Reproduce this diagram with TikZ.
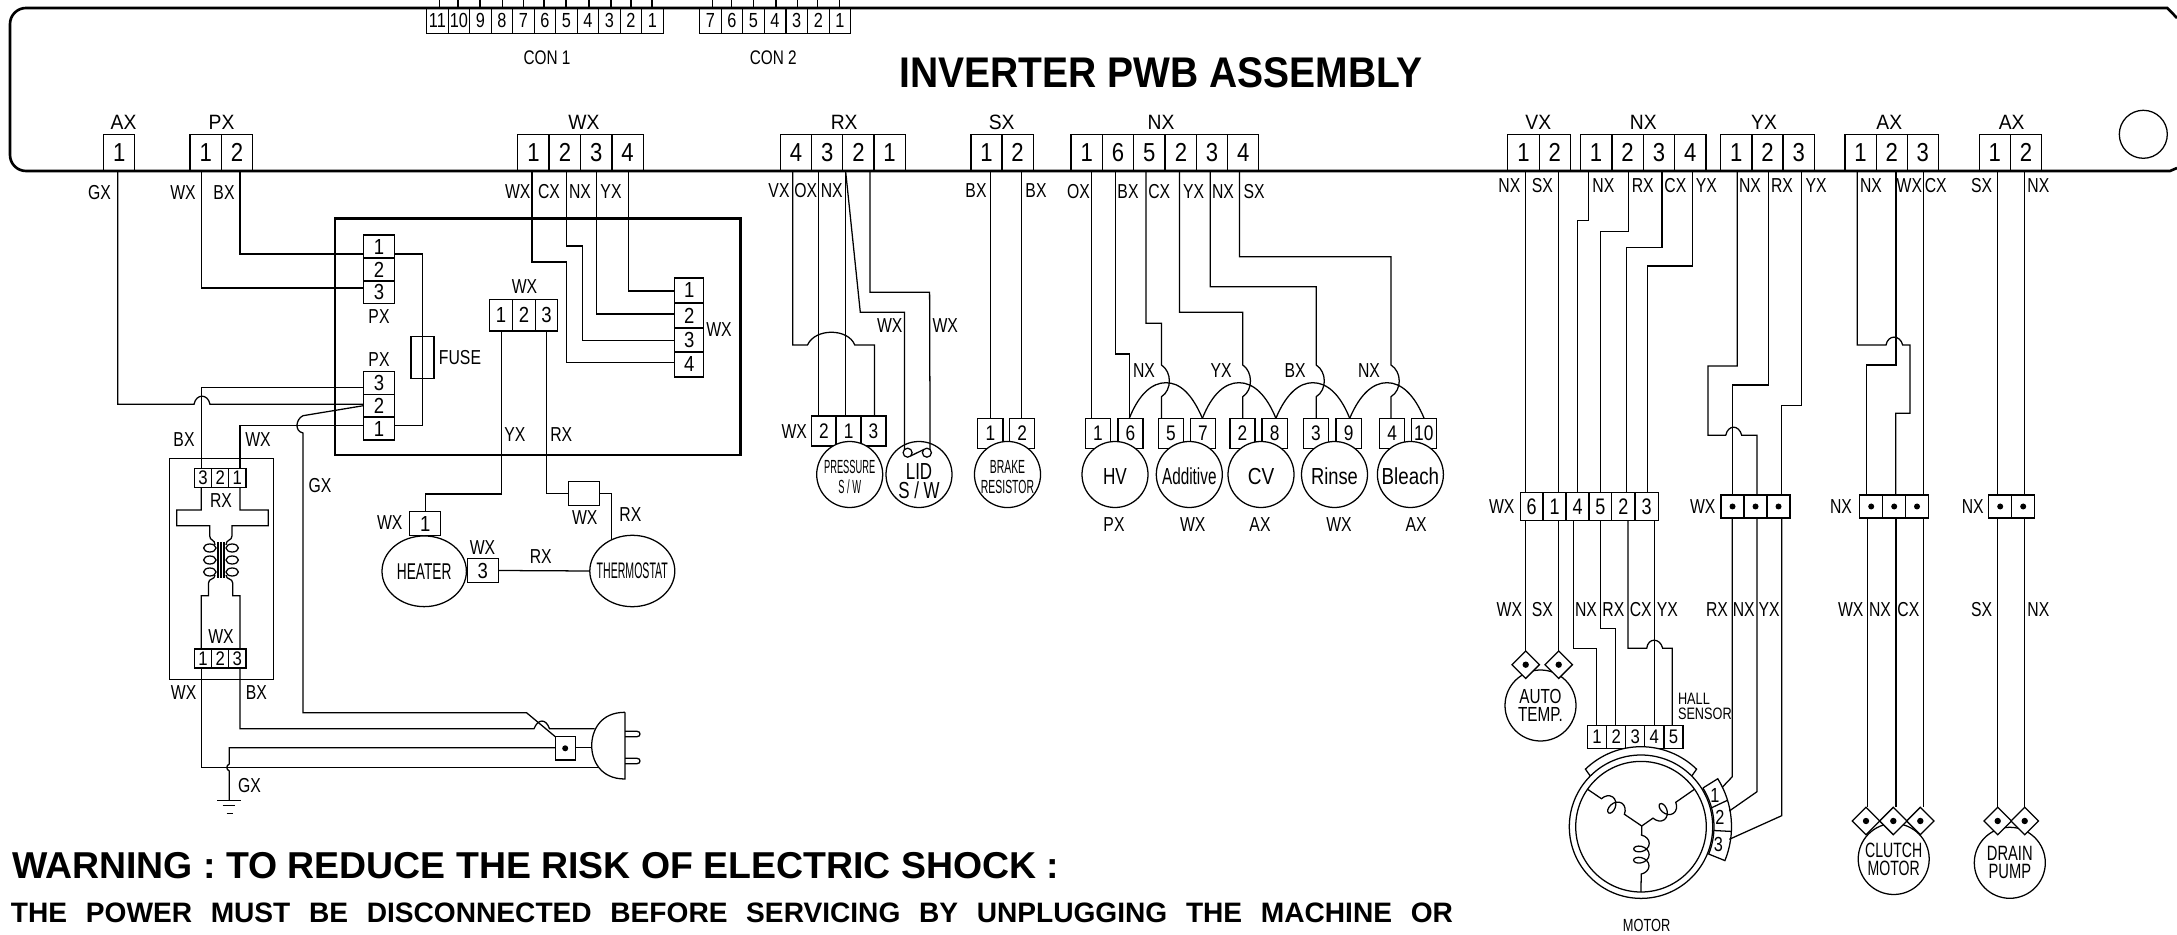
\documentclass[tikz,border=0pt]{standalone}
\usepackage{fontspec}
\setmainfont{Liberation Sans}
\usetikzlibrary{shapes.geometric,decorations.pathmorphing}
\newcommand{\devfont}[3][5.4]{\fontsize{#2}{#1}\selectfont\addfontfeature{FakeStretch=#3}}
\tikzset{
  bcell/.style={draw,minimum width=3.13mm,minimum height=3.67mm,font=\devfont{7.4}{.85}},
  ccell/.style={draw,minimum width=2.15mm,minimum height=2.53mm,font=\devfont{5.8}{.8}},
  vcell/.style={draw,minimum width=3.11mm,minimum height=2.3mm,font=\devfont{6.2}{.85}},
  rcell/.style={draw,minimum width=2.9mm,minimum height=2.5mm,font=\devfont{6.2}{.85}},
  mcell/.style={draw,minimum width=2.26mm,minimum height=3.17mm,font=\devfont{6.2}{.85}},
  tcell/.style={draw,minimum width=1.72mm,minimum height=1.9mm,font=\devfont{5.6}{.85}},
  hcell/.style={draw,minimum width=3.1mm,minimum height=2.36mm,font=\devfont{6.2}{.85}},
  scell/.style={draw,minimum width=2.52mm,minimum height=3mm,font=\devfont{6}{.82}},
  dcell/.style={draw,minimum width=2.3mm,minimum height=2.8mm,font=\devfont{6.4}{.8}},
  mtcell/.style={draw,minimum width=1.92mm,minimum height=2.26mm,font=\devfont{5.6}{.85}},
  dotcell/.style={draw,minimum width=2.3mm,minimum height=2.3mm,path picture={\fill[black] (path picture bounding box.center) circle (.3mm);}},
  pindia/.style={diamond,draw,fill=white,minimum width=2.74mm,minimum height=2.74mm,path picture={\fill[black] (path picture bounding box.center) circle (.32mm);}},
  dev/.style={circle,draw,fill=white,minimum size=6.6mm,align=center},
  bigdev/.style={circle,draw,fill=white,minimum size=7.1mm,align=center},
  unit/.style={dev,text height=2.1mm},
  oval/.style={ellipse,draw,fill=white,minimum width=8.44mm,minimum height=7.07mm},
  tag/.style={font=\devfont{5.75}{.78}},
  head/.style={font=\devfont{5.9}{.93}},
  wire/.style={draw},
  coilwire/.style={decorate,decoration={coil,aspect=.7,amplitude=2.2pt,segment length=3.2pt,#1}}
}
\begin{document}
\begin{tikzpicture}[x=.1mm,y=-.1mm,line width=.36pt,every node/.style={inner sep=0pt,outer sep=0pt}]
  \useasboundingbox (0,0) rectangle (2177,935);
  % board outline
  \draw[line width=.75pt] (2177,18) -- (2167.3,8) [rounded corners=1.6mm] -- (10,8) -- (10,171) [sharp corners] -- (2170,171) -- (2177,168);
  \draw (2143.3,134.3) circle (2.4mm);
  \node[font=\bfseries\fontsize{12.2}{13}\selectfont\addfontfeature{FakeStretch=.91}] (title) at (1161,73) {INVERTER PWB ASSEMBLY};
  \node[font=\devfont{5.6}{.78}] (conlabela) at (547,57.7) {CON 1};
  \node[font=\devfont{5.6}{.78}] (conlabelb) at (773.3,57.7) {CON 2};

  % CON 1
  \node[ccell] (cona11) at (437.4,20.7) {11};
  \node[ccell] (cona10) at (458.9,20.7) {10};
  \node[ccell] (cona9) at (480.4,20.7) {9};
  \node[ccell] (cona8) at (501.9,20.7) {8};
  \node[ccell] (cona7) at (523.4,20.7) {7};
  \node[ccell] (cona6) at (544.9,20.7) {6};
  \node[ccell] (cona5) at (566.4,20.7) {5};
  \node[ccell] (cona4) at (587.9,20.7) {4};
  \node[ccell] (cona3) at (609.4,20.7) {3};
  \node[ccell] (cona2) at (630.9,20.7) {2};
  \node[ccell] (cona1) at (652.4,20.7) {1};
  % CON 2
  \node[ccell] (conb7) at (710.5,20.7) {7};
  \node[ccell] (conb6) at (732,20.7) {6};
  \node[ccell] (conb5) at (753.5,20.7) {5};
  \node[ccell] (conb4) at (775,20.7) {4};
  \node[ccell] (conb3) at (796.7,20.7) {3};
  \node[ccell] (conb2) at (818.4,20.7) {2};
  \node[ccell] (conb1) at (839.9,20.7) {1};
  \draw (cona11.north -| 439.6,0) -- (439.6,0);
  \draw (cona10.north -| 458,0) -- (458,0);
  \draw (cona9.north -| 480,0) -- (480,0);
  \draw (cona8.north -| 502.7,0) -- (502.7,0);
  \draw (cona7.north -| 523.5,0) -- (523.5,0);
  \draw (cona6.north -| 544,0) -- (544,0);
  \draw (cona5.north -| 566,0) -- (566,0);
  \draw (cona4.north -| 589,0) -- (589,0);
  \draw (cona3.north -| 611,0) -- (611,0);
  \draw (cona2.north -| 631,0) -- (631,0);
  \draw (cona1.north -| 652,0) -- (652,0);
  \draw (conb7.north -| 712.3,0) -- (712.3,0);
  \draw (conb6.north -| 731.7,0) -- (731.7,0);
  \draw (conb5.north -| 753.3,0) -- (753.3,0);
  \draw (conb4.north -| 776,0) -- (776,0);
  \draw (conb3.north -| 797.7,0) -- (797.7,0);
  \draw (conb2.north -| 817.7,0) -- (817.7,0);
  \draw (conb1.north -| 839.3,0) -- (839.3,0);

  % connectors on the bottom edge of the board
  \node[head] (headax) at (123.6,122) {AX};
  \node[bcell] (ax1) at (119.2,152.65) {1};
  \node[head] (headpx) at (221.5,122) {PX};
  \node[bcell] (pxa1) at (205.7,152.65) {1};
  \node[bcell] (pxa2) at (237,152.65) {2};
  \node[head] (headwx) at (584,122) {WX};
  \node[bcell] (wxa1) at (533.4,152.65) {1};
  \node[bcell] (wxa2) at (564.9,152.65) {2};
  \node[bcell] (wxa3) at (596.3,152.65) {3};
  \node[bcell] (wxa4) at (627.5,152.65) {4};
  \node[head] (headrx) at (844.2,122) {RX};
  \node[bcell] (rx4) at (796,152.65) {4};
  \node[bcell] (rx3) at (827.2,152.65) {3};
  \node[bcell] (rx2) at (858.4,152.65) {2};
  \node[bcell] (rx1) at (889.6,152.65) {1};
  \node[head] (headsx) at (1001.7,122) {SX};
  \node[bcell] (sx1) at (986.6,152.65) {1};
  \node[bcell] (sx2) at (1017.6,152.65) {2};
  \node[head] (headnxa) at (1161,122) {NX};
  \node[bcell] (nxa1) at (1086.7,152.65) {1};
  \node[bcell] (nxa6) at (1117.9,152.65) {6};
  \node[bcell] (nxa5) at (1149.3,152.65) {5};
  \node[bcell] (nxa2) at (1180.9,152.65) {2};
  \node[bcell] (nxa3) at (1212,152.65) {3};
  \node[bcell] (nxa4) at (1243.2,152.65) {4};
  \node[head] (headvx) at (1538.3,122) {VX};
  \node[bcell] (vx1) at (1523.5,152.65) {1};
  \node[bcell] (vx2) at (1554.8,152.65) {2};
  \node[head] (headnxb) at (1643.3,122) {NX};
  \node[bcell] (nxb1) at (1596,152.65) {1};
  \node[bcell] (nxb2) at (1627.5,152.65) {2};
  \node[bcell] (nxb3) at (1659,152.65) {3};
  \node[bcell] (nxb4) at (1690.3,152.65) {4};
  \node[head] (headyx) at (1764,122) {YX};
  \node[bcell] (yx1) at (1736.2,152.65) {1};
  \node[bcell] (yx2) at (1767.5,152.65) {2};
  \node[bcell] (yx3) at (1798.7,152.65) {3};
  \node[head] (headaxa) at (1889.3,122) {AX};
  \node[bcell] (axa1) at (1860.5,152.65) {1};
  \node[bcell] (axa2) at (1891.8,152.65) {2};
  \node[bcell] (axa3) at (1922.8,152.65) {3};
  \node[head] (headaxb) at (2011.7,122) {AX};
  \node[bcell] (axb1) at (1994.8,152.65) {1};
  \node[bcell] (axb2) at (2026,152.65) {2};

  % fuse box
  \draw[line width=.75pt] (335,218.7) rectangle (740.7,455);
  \node[vcell] (pxb1) at (379,246.6) {1};
  \node[vcell] (pxb2) at (379,269.6) {2};
  \node[vcell] (pxb3) at (379,292) {3};
  \node[tag] (tagpxb) at (379,317) {PX};
  \node[tag] (tagpxc) at (379,360) {PX};
  \node[vcell] (pxc3) at (379,383.1) {3};
  \node[vcell] (pxc2) at (379,406.2) {2};
  \node[vcell] (pxc1) at (379,428.6) {1};
  \node[draw,minimum width=2.3mm,minimum height=4.16mm] (fuse) at (422.5,357.5) {};
  \node[tag] (tagfuse) at (460,357.7) {FUSE};
  \node[tag] (tagwxb) at (524.5,287) {WX};
  \node[mcell] (wxb1) at (501,315.2) {1};
  \node[mcell] (wxb2) at (524,315.2) {2};
  \node[mcell] (wxb3) at (546.5,315.2) {3};
  \node[rcell] (wxc1) at (689.3,290.5) {1};
  \node[rcell] (wxc2) at (689.3,315.8) {2};
  \node[rcell] (wxc3) at (689.3,340.3) {3};
  \node[rcell] (wxc4) at (689.3,364.5) {4};
  \node[tag] (tagwxc) at (719,330) {WX};

  \draw[wire] (ax1.south -| 117.8,0) -- (117.8,404.3) -- (194,404.3) .. controls (196,393.5) and (208,393.5) .. (210,404.3) -- (pxc2.west |- 0,404.3);
  \draw[wire] (pxa1.south -| 201.6,0) |- (pxb3.west |- 0,288);
  \draw[wire] (pxa2.south -| 240,0) |- (pxb1.west |- 0,254);
  \draw[wire] (pxb1.east |- 0,254) -| (422.7,425.3) -- (pxc1.east |- 0,425.3);
  \draw[wire] (wxa1.south -| 532,0) -- (532,262) -- (566.7,262) |- (wxc4.west |- 0,362.3);
  \draw[wire] (wxa2.south -| 566.7,0) -- (566.7,246) -- (582.7,246) |- (wxc3.west |- 0,340.3);
  \draw[wire] (wxa3.south -| 596.2,0) |- (wxc2.west |- 0,314);
  \draw[wire] (wxa4.south -| 628.2,0) |- (wxc1.west |- 0,291);
  \node[tag] (taga) at (99.4,193) {GX};
  \node[tag] (tagb) at (183,193) {WX};
  \node[tag] (tagc) at (224,193) {BX};
  \node[tag] (tagd) at (517.7,192) {WX};
  \node[tag] (tage) at (549,192) {CX};
  \node[tag] (tagf) at (580,192) {NX};
  \node[tag] (tagg) at (611,192) {YX};

  % transformer
  \draw (169.5,458.3) rectangle (273.7,679.3);
  \node[tcell] (tra3) at (203.1,477.8) {3};
  \node[tcell] (tra2) at (220.2,477.8) {2};
  \node[tcell] (tra1) at (237.4,477.8) {1};
  \node[tcell] (trb1) at (203.1,658.6) {1};
  \node[tcell] (trb2) at (220.2,658.6) {2};
  \node[tcell] (trb3) at (237.4,658.6) {3};
  \node[tag] (tagtra) at (221,500.7) {RX};
  \node[tag] (tagtrb) at (221,636.7) {WX};
  \draw[wire] (pxc3.west |- 0,387.3) -| (tra3.north -| 201.3,0);
  \draw[wire] (pxc1.west |- 0,425.3) -| (tra1.north -| 240,0);
  \draw[wire] (tra3.south -| 201.3,0) -- (201.3,510) -- (176.7,510) -- (176.7,525.7) -- (209.7,525.7) -- (209.7,536) .. controls (209.7,541) and (215,539) .. (215,545);
  \draw[wire] (tra1.south -| 240,0) -- (240,510) -- (268.3,510) -- (268.3,525.7) -- (232,525.7) -- (232,536) .. controls (232,541) and (226,539) .. (226,545);
  \draw[wire] (trb1.north -| 201.3,0) -- (201.3,595.7) -- (208.5,595.7) -- (208.5,583) .. controls (208.5,578) and (215,580) .. (215,575);
  \draw[wire] (trb3.north -| 240,0) -- (240,595.7) -- (232.7,595.7) -- (232.7,583) .. controls (232.7,578) and (226,580) .. (226,575);
  \draw (218,542) -- (218,578);
  \draw (221,542) -- (221,578);
  \draw (224,542) -- (224,578);
  \draw (209.8,548) circle[x radius=6.2,y radius=4];
  \draw (209.8,560) circle[x radius=6.2,y radius=4];
  \draw (209.8,572) circle[x radius=6.2,y radius=4];
  \draw (232.2,548) circle[x radius=6.2,y radius=4];
  \draw (232.2,560) circle[x radius=6.2,y radius=4];
  \draw (232.2,572) circle[x radius=6.2,y radius=4];
  \node[tag] (tagh) at (184,440) {BX};
  \node[tag] (tagi) at (258,440) {WX};
  \node[tag] (tagj) at (183.6,692.3) {WX};
  \node[tag] (tagk) at (256.4,692.3) {BX};

  % plug
  \node[draw,minimum width=1.99mm,minimum height=2.33mm,path picture={\fill[black] (path picture bounding box.center) circle (.3mm);}] (gndbox) at (565.2,748.3) {};
  \coordinate (plugl) at (599.4,767.3);
  \coordinate (plugn) at (594.7,728.7);
  \coordinate (plugg) at (591.7,747.7);
  \coordinate (earth) at (229.2,800.7);
  \draw (625,712.3) -- (625,779) .. controls (600,779) and (591.7,760) .. (591.7,745.7) .. controls (591.7,731) and (600,712.3) .. (625,712.3);
  \draw (625,731.3) -- (637,731.3) .. controls (641,731.3) and (641,736.7) .. (637,736.7) -- (625,736.7);
  \draw (625,758.3) -- (637,758.3) .. controls (641,758.3) and (641,763.7) .. (637,763.7) -- (625,763.7);
  \draw[wire] (trb1.south -| 201.3,0) |- (plugl);
  \draw[wire] (trb3.south -| 240,0) -- (240,728.7) -- (534,728.7) .. controls (538,718.5) and (546,718.5) .. (549.5,728.7) -- (plugn);
  \draw[wire] (plugg) -- (gndbox.east |- plugg);
  \draw[wire] (gndbox.west |- plugg) -- (229.2,747.7) -- (229.2,764) .. controls (226,766) and (226,769) .. (229.2,771) -- (earth);
  \draw[wire] (pxc2.west |- 0,405.7) -- (303,415.7) .. controls (296,419) and (294,431) .. (303,433) -- (303,712.7) -- (526.5,712.7) -- (gndbox.north west);
  \draw (217.4,800.7) -- (241,800.7);
  \draw (222.7,805.7) -- (235.4,805.7);
  \draw (226.6,813.3) -- (232.7,813.3);
  \node[tag] (tagl) at (320,486) {GX};
  \node[tag] (tagm) at (249.5,785.3) {GX};

  % heater and thermostat
  \node[hcell] (htr1) at (425.2,523.6) {1};
  \node[hcell] (htr3) at (482.8,570.5) {3};
  \node[hcell] (ovl) at (584.3,493.5) {};
  \node[oval,font=\devfont{6.5}{.6}] (heater) at (424.2,571.3) {HEATER};
  \node[oval,minimum width=8.5mm,minimum height=7.14mm,font=\devfont{6.4}{.47}] (thermo) at (632.3,571) {\makebox[0pt]{THERMOSTAT}};
  \draw[wire] (wxb1.south -| 501.3,0) -- (501.3,494) -| (htr1.north);
  \draw[wire] (wxb3.south -| 546.3,0) |- (ovl.west);
  \draw[wire] (ovl.east) -| (thermo.124);
  \draw[wire] (htr3.east) -- (thermo.west);
  \node[tag] (tagn) at (514.8,434.3) {YX};
  \node[tag] (tago) at (561.3,434.3) {RX};
  \node[tag] (tagp) at (389.8,522.7) {WX};
  \node[tag] (tagq) at (482.5,547.7) {WX};
  \node[tag] (tagr) at (540.7,557) {RX};
  \node[tag] (tags) at (584.8,517.7) {WX};
  \node[tag] (tagt) at (630.4,514.7) {RX};

  % pressure and lid switches
  \node[scell] (prs2) at (823.8,431) {2};
  \node[scell] (prs1) at (848.6,431) {1};
  \node[scell] (prs3) at (873.4,431) {3};
  \node[dev,font={\devfont[5.7]{5.4}{.49}}] (press) at (849.7,474.5) {\rule{0pt}{1.9mm}PRESSURE\\S / W};
  \node[dev,font=\devfont{6.6}{.73}] (lid) at (919,474.5) {\rule{0pt}{3mm}LID\\S / W};
  \node[draw,circle,minimum size=.9mm] (lida) at (907.6,452.7) {};
  \node[draw,circle,minimum size=.9mm] (lidb) at (926.9,452.7) {};
  \draw (lida.south east) -- (lidb.north west);
  \draw[wire] (rx4.south -| 792.8,0) -- (792.8,345) -- (807.5,345) .. controls (815,328) and (848,328) .. (854.8,345) -- (874.5,345) -- (prs3.north -| 874.5,0);
  \draw[wire] (rx3.south -| 818.5,0) -- (prs2.north -| 818.5,0);
  \draw[wire] (rx2.south -| 845.6,0) -- (prs1.north -| 845.6,0);
  \draw[wire] (rx2.south -| 845.6,0) -- (860.3,312.3) -- (904.4,312.3) -- (lida.135);
  \draw[wire] (rx1.south -| 870,0) -- (870,292.3) -- (929.6,292.3) -- (lidb.45);
  \node[tag] (tagu) at (779,191) {VX};
  \node[tag] (tagv) at (805.7,191) {OX};
  \node[tag] (tagw) at (831.8,191) {NX};
  \node[tag] (tagx) at (889.7,326) {WX};
  \node[tag] (tagy) at (945.2,326) {WX};
  \node[tag] (tagz) at (794.2,431.7) {WX};

  % brake resistor
  \node[scell] (brk1) at (990.4,433.3) {1};
  \node[scell] (brk2) at (1022.2,433.3) {2};
  \node[dev,font={\devfont[5.7]{5.4}{.55}}] (brake) at (1007.5,474.5) {\rule{0pt}{1.9mm}BRAKE\\RESISTOR};
  \draw[wire] (sx1.south -| 990.2,0) -- (brk1.north -| 990.2,0);
  \draw[wire] (sx2.south -| 1021.5,0) -- (brk2.north -| 1021.5,0);
  \node[tag] (tagba) at (976,191) {BX};
  \node[tag] (tagbb) at (1036,191) {BX};

  % HV, Additive, CV, Rinse, Bleach
  \node[scell] (hv1) at (1097.9,433.3) {1};
  \node[scell] (hv6) at (1130.5,433.3) {6};
  \node[scell] (add5) at (1170.9,433.3) {5};
  \node[scell] (add7) at (1203,433.3) {7};
  \node[scell] (cv2) at (1242.5,433.3) {2};
  \node[scell] (cv8) at (1274.6,433.3) {8};
  \node[scell] (rin3) at (1316,433.3) {3};
  \node[scell] (rin9) at (1348.6,433.3) {9};
  \node[scell] (ble4) at (1392.2,433.3) {4};
  \node[scell] (ble10) at (1423.8,433.3) {10};
  \node[unit,font=\devfont{6.6}{.74}] (hv) at (1115,474.5) {HV};
  \node[unit,font=\devfont{6.6}{.66}] (additive) at (1189.3,474.5) {Additive};
  \node[unit,font=\devfont{6.6}{.82}] (cv) at (1261,474.5) {CV};
  \node[unit,font=\devfont{6.6}{.79}] (rinse) at (1334.5,474.5) {Rinse};
  \node[unit,font=\devfont{6.6}{.81}] (bleach) at (1410.4,474.5) {Bleach};
  \draw[wire] (nxa1.south -| 1091.7,0) -- (hv1.north -| 1091.7,0);
  \draw[wire] (nxa6.south -| 1115.6,0) -- (1115.6,354) -- (1129.3,354) -- (hv6.north -| 1129.3,0);
  \draw[wire] (nxa5.south -| 1145.9,0) -- (1145.9,323.3) -- (1161.5,323.3) -- (1161.5,365) .. controls (1172,372) and (1172,390) .. (1161.5,396.7) -- (add5.north -| 1161.5,0);
  \draw[wire] (nxa2.south -| 1179.4,0) -- (1179.4,312.3) -- (1242.8,312.3) -- (1242.8,365) .. controls (1253,372) and (1253,390) .. (1242.8,396.7) -- (cv2.north -| 1242.8,0);
  \draw[wire] (nxa3.south -| 1210.2,0) -- (1210.2,286.7) -- (1316.2,286.7) -- (1316.2,365) .. controls (1327,372) and (1327,390) .. (1316.2,396.7) -- (rin3.north -| 1316.2,0);
  \draw[wire] (nxa4.south -| 1239.5,0) -- (1239.5,256.7) -- (1391,256.7) -- (1391,365) .. controls (1402,372) and (1402,390) .. (1391,396.7) -- (ble4.north -| 1391,0);
  \draw[wire] (hv6.north -| 1129.3,0) .. controls (1139,394) and (1152,382.7) .. (1165.9,382.7) .. controls (1180,382.7) and (1192,394) .. (add7.north -| 1202.4,0);
  \draw[wire] (add7.north -| 1202.4,0) .. controls (1212,394) and (1225,382.7) .. (1239,382.7) .. controls (1253,382.7) and (1266,394) .. (cv8.north -| 1275.9,0);
  \draw[wire] (cv8.north -| 1275.9,0) .. controls (1286,394) and (1299,382.7) .. (1312.8,382.7) .. controls (1327,382.7) and (1340,394) .. (rin9.north -| 1349.7,0);
  \draw[wire] (rin9.north -| 1349.7,0) .. controls (1360,394) and (1373,382.7) .. (1387,382.7) .. controls (1401,382.7) and (1414,394) .. (ble10.north -| 1424.1,0);
  \node[tag] (tagca) at (1078.4,191.7) {OX};
  \node[tag] (tagcb) at (1128,191.7) {BX};
  \node[tag] (tagcc) at (1159.2,191.7) {CX};
  \node[tag] (tagcd) at (1193.6,191.7) {YX};
  \node[tag] (tagce) at (1223,191.7) {NX};
  \node[tag] (tagcf) at (1254.2,191.7) {SX};
  \node[tag] (tagcg) at (1144,371) {NX};
  \node[tag] (tagch) at (1221.2,371) {YX};
  \node[tag] (tagci) at (1295,371) {BX};
  \node[tag] (tagcj) at (1369,371) {NX};
  \node[tag] (tagck) at (1114,525) {PX};
  \node[tag] (tagcl) at (1192.7,525) {WX};
  \node[tag] (tagcm) at (1260,525) {AX};
  \node[tag] (tagcn) at (1339,525) {WX};
  \node[tag] (tagco) at (1416,525) {AX};

  % right part
  \node[dcell] (wxd6) at (1531.7,506.7) {6};
  \node[dcell] (wxd1) at (1554.5,506.7) {1};
  \node[dcell] (wxd4) at (1577.5,506.7) {4};
  \node[dcell] (wxd5) at (1600.3,506.7) {5};
  \node[dcell] (wxd2) at (1623.3,506.7) {2};
  \node[dcell] (wxd3) at (1646.7,506.7) {3};
  \node[dotcell] (wxe1) at (1732.5,506.5) {};
  \node[dotcell] (wxe2) at (1755.5,506.5) {};
  \node[dotcell] (wxe3) at (1778.5,506.5) {};
  \node[dotcell] (nxc1) at (1871.2,506.5) {};
  \node[dotcell] (nxc2) at (1894.2,506.5) {};
  \node[dotcell] (nxc3) at (1917,506.5) {};
  \node[dotcell] (nxd1) at (2000.2,506.5) {};
  \node[dotcell] (nxd2) at (2023.2,506.5) {};
  \node[tag] (tagda) at (1501.7,506.7) {WX};
  \node[tag] (tagdb) at (1702.7,506.7) {WX};
  \node[tag] (tagdc) at (1841,506.7) {NX};
  \node[tag] (tagdd) at (1972.7,506.7) {NX};
  \draw[wire] (vx1.south -| 1525.7,0) -- (wxd6.north -| 1525.7,0);
  \draw[wire] (vx2.south -| 1558.7,0) -- (wxd1.north -| 1558.7,0);
  \draw[wire] (nxb1.south -| 1588.7,0) -- (1588.7,220.3) -- (1577.3,220.3) -- (wxd4.north -| 1577.3,0);
  \draw[wire] (nxb2.south -| 1628.7,0) -- (1628.7,231.3) -- (1600.3,231.3) -- (wxd5.north -| 1600.3,0);
  \draw[wire] (nxb3.south -| 1662,0) -- (1662,247.3) -- (1626.3,247.3) -- (wxd2.north -| 1626.3,0);
  \draw[wire] (nxb4.south -| 1692.7,0) -- (1692.7,266) -- (1647.7,266) -- (wxd3.north -| 1647.7,0);
  \draw[wire] (yx1.south -| 1737.3,0) -- (1737.3,366) -- (1708,366) -- (1708,435.3) -- (1725.7,435.3) .. controls (1728,424.5) and (1739,424.5) .. (1741.7,435.3) -- (1757,435.3) -- (wxe2.north -| 1757,0);
  \draw[wire] (yx2.south -| 1768.7,0) -- (1768.7,385) -- (1732.3,385) -- (wxe1.north -| 1732.3,0);
  \draw[wire] (yx3.south -| 1801.3,0) -- (1801.3,405.3) -- (1781.7,405.3) -- (wxe3.north -| 1781.7,0);
  \draw[wire] (axa1.south -| 1857.3,0) -- (1857.3,345) -- (1886,345) .. controls (1888,334.5) and (1900,334.5) .. (1902.7,345) -- (1910,345) -- (1910,413.3) -- (1895.7,413.3) -- (nxc2.north -| 1895.7,0);
  \draw[wire] (axa2.south -| 1896,0) -- (1896,365) -- (1866.3,365) -- (nxc1.north -| 1866.3,0);
  \draw[wire] (axa3.south -| 1923.3,0) -- (nxc3.north -| 1923.3,0);
  \draw[wire] (axb1.south -| 1997.7,0) -- (nxd1.north -| 1997.7,0);
  \draw[wire] (axb2.south -| 2024.7,0) -- (nxd2.north -| 2024.7,0);
  \node[tag] (tagea) at (1509.3,185.7) {NX};
  \node[tag] (tageb) at (1542.3,185.7) {SX};
  \node[tag] (tagec) at (1603.3,185.7) {NX};
  \node[tag] (taged) at (1642.7,185.7) {RX};
  \node[tag] (tagee) at (1675.3,185.7) {CX};
  \node[tag] (tagef) at (1706.3,185.7) {YX};
  \node[tag] (tageg) at (1750,185.7) {NX};
  \node[tag] (tageh) at (1782,185.7) {RX};
  \node[tag] (tagei) at (1816,185.7) {YX};
  \node[tag] (tagej) at (1871,185.7) {NX};
  \node[tag] (tagek) at (1909.3,185.7) {WX};
  \node[tag] (tagel) at (1935.7,185.7) {CX};
  \node[tag] (tagem) at (1981.7,185.7) {SX};
  \node[tag] (tagen) at (2038.3,185.7) {NX};

  % auto temp
  \node[bigdev,font={\devfont[5.3]{5.8}{.75}}] (auto) at (1540.5,705.5) {AUTO\\TEMP.};
  \node[pindia] (autoa) at (1525.7,664.7) {};
  \node[pindia] (autob) at (1558.7,664.7) {};
  \draw[wire] (wxd6.south -| 1525.7,0) -- (autoa.north);
  \draw[wire] (wxd1.south -| 1558.7,0) -- (autob.north);

  % motor
  \node[mtcell] (mot1) at (1597,737) {1};
  \node[mtcell] (mot2) at (1616.2,737) {2};
  \node[mtcell] (mot3) at (1635.2,737) {3};
  \node[mtcell] (mot4) at (1654.2,737) {4};
  \node[mtcell] (mot5) at (1673.5,737) {5};
  \begin{scope}[shift={(1641,826.7)}]
    \draw[fill=white] (-135:72) -- (-134:80) arc[start angle=-134,end angle=-46,radius=80] -- (-45:72);
    \draw[fill=white] (-32:73) -- (-32:90.5) arc[start angle=-32,end angle=22,radius=90.5] -- (22:73) arc[start angle=22,end angle=-32,radius=73];
    \draw (-15:73) -- (-17:90.5);
    \draw (3:73) -- (3:90.5);
  \end{scope}
  \node[circle,draw,minimum size=14.34mm] (motor) at (1641,826.7) {};
  \node[circle,draw,minimum size=13.06mm] (motorin) at (1641,826.7) {};
  \coordinate (star) at (1641.7,826);
  \coordinate (mpa) at (1722.5,787);
  \coordinate (mpb) at (1729.3,811);
  \coordinate (mpc) at (1729.3,839.3);
  \draw[coilwire={pre length=4.8pt,post length=4pt}] (motorin.145) -- (star);
  \draw[coilwire={pre length=6.5pt,post length=2.7pt}] (motorin.35) -- (star);
  \draw[coilwire={pre length=2.6pt,post length=5pt}] (star) -- (motorin.south);
  \node[font=\devfont{5.8}{.8}] (pina) at (1715,795) {1};
  \node[font=\devfont{5.8}{.8}] (pinb) at (1720,817.3) {2};
  \node[font=\devfont{5.8}{.8}] (pinc) at (1718.3,844) {3};
  \draw[wire] (wxe1.south -| 1732.3,0) -- (1732.3,776.7) -- (mpa);
  \draw[wire] (wxe2.south -| 1757,0) -- (1757,791.7) -- (mpb);
  \draw[wire] (wxe3.south -| 1781.7,0) -- (1781.7,815.7) -- (mpc);
  \draw[wire] (wxd4.south -| 1573.3,0) -- (1573.3,648.3) -- (1596.7,648.3) -- (mot1.north -| 1596.7,0);
  \draw[wire] (wxd5.south -| 1600.3,0) -- (1600.3,628.3) -- (1615.3,628.3) -- (mot2.north -| 1615.3,0);
  \draw[wire] (wxd2.south -| 1628,0) -- (1628,648.3) -- (1646.7,648.3) .. controls (1648,637.5) and (1660,637.5) .. (1662.7,648.3) -- (1672.3,648.3) -- (mot5.north -| 1672.3,0);
  \draw[wire] (wxd3.south -| 1654.3,0) -- (mot4.north -| 1654.3,0);
  \node[font=\devfont{5}{.73}] (tagmotor) at (1646.7,925) {MOTOR};
  \node[anchor=west,align=left,font={\devfont[4.3]{4.7}{.77}}] (taghall) at (1678,706.5) {HALL\\SENSOR};
  \node[tag] (tagfa) at (1509.3,610) {WX};
  \node[tag] (tagfb) at (1542.3,610) {SX};
  \node[tag] (tagfc) at (1586,610) {NX};
  \node[tag] (tagfd) at (1613.3,610) {RX};
  \node[tag] (tagfe) at (1640.7,610) {CX};
  \node[tag] (tagff) at (1667.3,610) {YX};
  \node[tag] (tagfg) at (1717,610) {RX};
  \node[tag] (tagfh) at (1743.7,610) {NX};
  \node[tag] (tagfi) at (1769,610) {YX};

  % clutch motor and drain pump
  \node[bigdev,font={\devfont[5.2]{5.9}{.68}}] (clutch) at (1893.7,859) {CLUTCH\\MOTOR};
  \node[pindia] (cla) at (1866,821) {};
  \node[pindia] (clb) at (1893.3,821) {};
  \node[pindia] (clc) at (1920.3,821) {};
  \node[bigdev,font={\devfont[5.2]{5.9}{.71}}] (drain) at (2009.8,862.8) {DRAIN\\PUMP};
  \node[pindia] (dra) at (1997.7,821) {};
  \node[pindia] (drb) at (2024.7,821) {};
  \draw[wire] (nxc1.south -| 1867.3,0) -- (cla.north -| 1867.3,0);
  \draw[wire] (nxc2.south -| 1896,0) -- (clb.north -| 1896,0);
  \draw[wire] (nxc3.south -| 1923.3,0) -- (clc.north -| 1923.3,0);
  \draw[wire] (nxd1.south -| 1997.7,0) -- (dra.north);
  \draw[wire] (nxd2.south -| 2024.7,0) -- (drb.north);
  \node[tag] (tagga) at (1850.7,610) {WX};
  \node[tag] (taggb) at (1880,610) {NX};
  \node[tag] (taggc) at (1908.3,610) {CX};
  \node[tag] (taggd) at (1981.7,610) {SX};
  \node[tag] (tagge) at (2038.3,610) {NX};

  % warning
  \node[anchor=west,font=\bfseries\fontsize{10.65}{12}\selectfont] (warna) at (12,865.5) {WARNING : TO REDUCE THE RISK OF ELECTRIC SHOCK :};
  \node[anchor=west,font=\bfseries\fontsize{8}{10}\selectfont] (warnb) at (11,913.3) {\makebox[144.2mm][s]{THE POWER MUST BE DISCONNECTED BEFORE SERVICING BY UNPLUGGING THE MACHINE OR}};
\end{tikzpicture}
\end{document}
